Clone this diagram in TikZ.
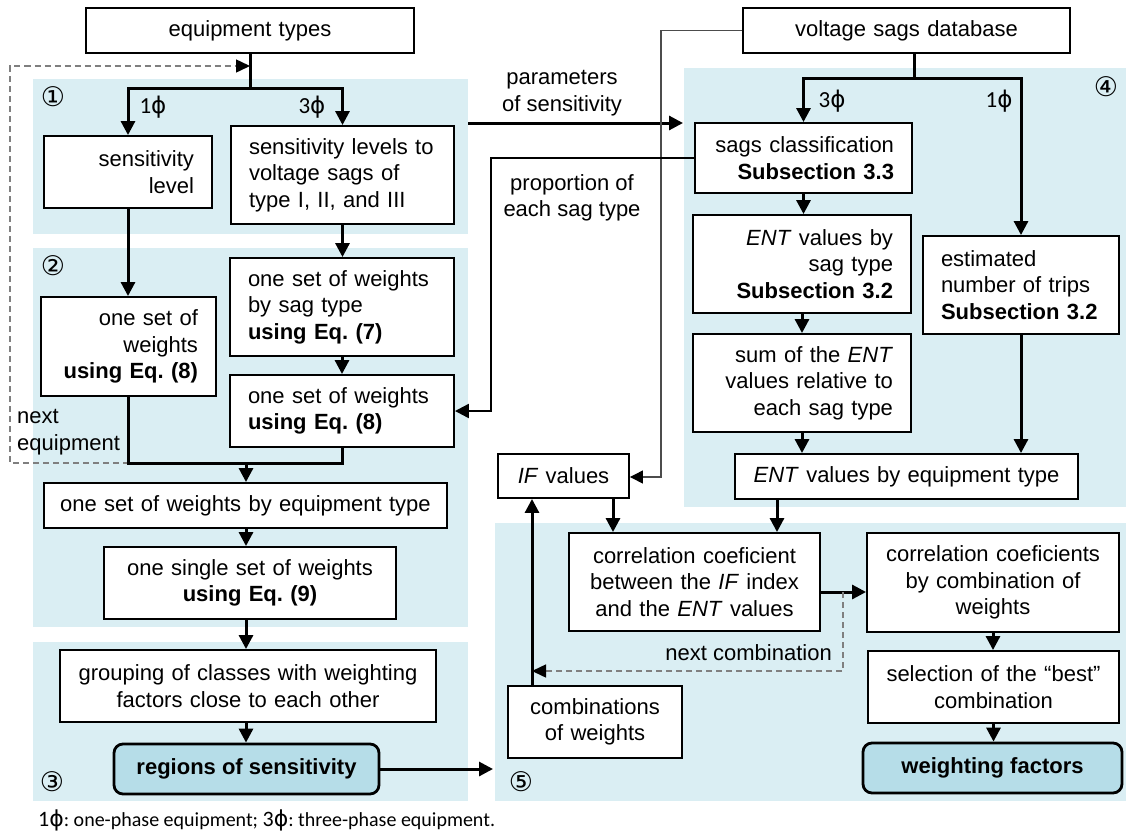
\documentclass[tikz,border=0pt]{standalone}
\usepackage{fontspec}
\setmainfont{Liberation Sans}
\newfontfamily\calfont{Carlito}
\newfontfamily\dvsfont{DejaVu Sans}
\usetikzlibrary{arrows.meta,calc}
\frenchspacing
\definecolor{regbg}{HTML}{DAEEF3}
\definecolor{endfill}{HTML}{B6DDE8}
\definecolor{dashgray}{HTML}{7F7F7F}
\newcommand{\ph}[1]{{\calfont #1}{\dvsfont ϕ}}
\tikzset{
  bx/.style={draw=black, line width=1.9pt, fill=white, inner ysep=0pt, font=\fontsize{22}{26.5}\selectfont},
  lbx/.style={bx, align=left, inner xsep=18pt},
  rbx/.style={bx, align=right, inner xsep=18pt},
  cbx/.style={bx, align=center, inner xsep=6pt},
  endbx/.style={draw=black, line width=2.8pt, rounded corners=9pt, fill=endfill, inner sep=0pt, font=\fontsize{22}{26.5}\selectfont\bfseries},
  ln/.style={line width=3pt},
  arr/.style={line width=3pt, -{Triangle[length=14pt,width=14pt]}},
  medarr/.style={line width=2.3pt, -{Triangle[length=14pt,width=14pt]}},
  dsh/.style={draw=dashgray, line width=1.5pt, dash pattern=on 6pt off 4pt},
  dsharr/.style={dsh, -{Triangle[length=14pt,width=13pt,color=black]}},
  thinarr/.style={draw=black!70, line width=1.3pt, -{Triangle[length=13pt,width=13pt,color=black]}},
  num/.style={font=\dvsfont\fontsize{27}{27}\selectfont, inner sep=0pt},
  phi/.style={font=\fontsize{23}{23}\selectfont, inner sep=0pt},
  lbl/.style={font=\fontsize{22}{26.5}\selectfont, align=center, inner sep=0pt}
}
\begin{document}
\begin{tikzpicture}[x=1pt,y=-1pt]
\useasboundingbox (0,0) rectangle (1126,833);
% regions
\fill[regbg] (33,79) rectangle (468,234);
\fill[regbg] (33,248) rectangle (468,627);
\fill[regbg] (33,642) rectangle (468,801);
\fill[regbg] (684,68) rectangle (1126,507);
\fill[regbg] (495,523) rectangle (1126,801);
% region numbers
\node[num] (n1) at (53,97) {①};
\node[num] (n2) at (53,266) {②};
\node[num] (n3) at (52,782) {③};
\node[num] (n4) at (1106,87) {④};
\node[num] (n5) at (521,782) {⑤};
% boxes left
\node[cbx, minimum width=328pt, text width=316pt, minimum height=45pt] (eqt) at (250,30.5) {equipment types};
\node[rbx, text width=132pt, minimum height=72pt] (sl) at (128,172) {sensitivity\\level};
\node[lbx, text width=187pt, minimum height=98pt] (sls) at (342.5,175) {sensitivity levels to\\voltage sags of\\type I, II, and III};
\node[lbx, text width=188pt, minimum height=98pt] (wst) at (342,307) {one set of weights\\by sag type\\\textbf{using Eq. (7)}};
\node[lbx, text width=188pt, minimum height=72pt] (w8b) at (342,411) {one set of weights\\\textbf{using Eq. (8)}};
\node[rbx, text width=139pt, minimum height=99pt] (w8a) at (128.5,346.5) {one set of\\weights\\\textbf{using Eq. (8)}};
\node[cbx, text width=391pt, minimum height=45pt] (wet) at (245.5,505.5) {one set of weights by equipment type};
\node[cbx, text width=280pt, minimum height=72pt] (w9) at (250,583) {one single set of weights\\\textbf{using Eq. (9)}};
\node[cbx, text width=364pt, minimum height=72pt] (grp) at (248,686) {grouping of classes with weighting\\factors close to each other};
\node[endbx, minimum width=265pt, minimum height=50pt] (ros) at (246.5,769) {regions of sensitivity};
% boxes right
\node[cbx, minimum width=327pt, text width=315pt, minimum height=45pt] (db) at (906.5,30.5) {voltage sags database};
\node[rbx, text width=181pt, minimum height=70pt] (sc) at (803.5,158) {sags classification\\\textbf{Subsection 3.3}};
\node[rbx, text width=182pt, minimum height=98pt] (ents) at (802,264) {\textit{ENT} values by\\sag type\\\textbf{Subsection 3.2}};
\node[rbx, text width=182pt, minimum height=98pt] (sum) at (802,383) {sum of the \textit{ENT}\\values relative to\\each sag type};
\node[lbx, text width=160pt, minimum height=98pt] (est) at (1021,285) {estimated\\number of trips\\\textbf{Subsection 3.2}};
\node[cbx, text width=331pt, minimum height=45pt] (ente) at (906.5,476.5) {\textit{ENT} values by equipment type};
\node[cbx, text width=119pt, minimum height=44pt] (ifv) at (563.5,476) {\textit{IF} values};
\node[cbx, text width=239pt, minimum height=98pt] (corr) at (694.5,582) {correlation coeficient\\between the \textit{IF} index\\and the \textit{ENT} values};
\node[cbx, text width=240pt, minimum height=99pt] (coefs) at (993,582.5) {correlation coeficients\\by combination of\\weights};
\node[cbx, text width=239pt, minimum height=72pt] (sel) at (993.5,687) {selection of the “best”\\combination};
\node[endbx, minimum width=259pt, minimum height=50pt] (wf) at (992.5,768) {weighting factors};
\node[cbx, text width=162pt, minimum height=72pt] (comb) at (595,722) {combinations\\of weights};
% labels
\node[phi] (p1) at (153,107) {\ph{1}};
\node[phi] (p3) at (312,107) {\ph{3}};
\node[phi] (q3) at (832,101) {\ph{3}};
\node[phi] (q1) at (999,101) {\ph{1}};
\node[lbl] (par) at (562,93) {parameters\\of sensitivity};
\node[lbl] (prop) at (572,198) {proportion of\\each sag type};
\node[lbl, align=left, anchor=west] (nexteq) at (17,432) {next\\equipment};
\node[lbl, anchor=east] (nextc) at (832,653) {next combination};
\node[anchor=west, inner sep=0pt, font=\calfont\fontsize{20}{20}\selectfont] (cap) at (38,820) {{\fontsize{22}{22}\selectfont\ph{1}}: one-phase equipment; {\fontsize{22}{22}\selectfont\ph{3}}: three-phase equipment.};
% coordinates
\coordinate (j1) at (250,88);
\coordinate (j2) at (128.5,463);
\coordinate (d1) at (10,463);
\coordinate (d2) at (10,66);
\coordinate (cx) at (246,0);
\coordinate (rosend) at (493,769);
\coordinate (pa) at (468,123);
\coordinate (pb) at (683,123);
\coordinate (t2) at (661,477);
\coordinate (pr) at (491,0);
\coordinate (j4) at (914,78);
\coordinate (c777) at (777,0);
\coordinate (c613) at (613,0);
\coordinate (c532) at (532,0);
\coordinate (r592) at (0,592);
\coordinate (dn1) at (843,592);
\coordinate (dn2) at (843,671);
% left connectors
\draw[ln] (eqt.south) -- (j1);
\draw[arr] (j1) -| (sl.north);
\draw[arr] (j1) -| (sls.north);
\draw[dsharr] (j2) -- (d1) -- (d2) -- (eqt.south |- d2);
\draw[arr] (sl.south) -- (sl.south |- w8a.north);
\draw[arr] (sls.south) -- (sls.south |- wst.north);
\draw[arr] (wst.south) -- (wst.south |- w8b.north);
\draw[ln] (w8a.south) -- (w8a.south |- j2) -- (w8b.south |- j2) -- (w8b.south);
\draw[arr] (cx |- j2) -- (cx |- wet.north);
\draw[arr] (cx |- wet.south) -- (cx |- w9.north);
\draw[arr] (cx |- w9.south) -- (cx |- grp.north);
\draw[arr] (cx |- grp.south) -- (cx |- ros.north);
\draw[arr] (ros.east) -- (rosend);
\draw[arr] (pa) -- (pb);
% right connectors
\draw[thinarr] (db.west) -- (db.west -| t2) -- (t2) -- (ifv.east |- t2);
\draw[medarr] (sc.west) -- (sc.west -| pr) -- (pr |- w8b.east) -- (w8b.east);
\draw[ln] (db.south -| j4) -- (j4);
\draw[arr] (j4) -| (sc.north);
\draw[arr] (j4) -| (est.north);
\draw[arr] (sc.south) -- (sc.south |- ents.north);
\draw[arr] (ents.south) -- (ents.south |- sum.north);
\draw[arr] (sum.south) -- (sum.south |- ente.north);
\draw[arr] (est.south) -- (est.south |- ente.north);
\draw[arr] (ente.south -| c777) -- (corr.north -| c777);
\draw[arr] (ifv.south -| c613) -- (corr.north -| c613);
\draw[arr] (comb.north -| c532) -- (ifv.south -| c532);
\draw[arr] (corr.east |- r592) -- (coefs.west |- r592);
\draw[dsharr] (dn1) -- (dn2) -- (c532 |- dn2);
\draw[arr] (coefs.south) -- (coefs.south |- sel.north);
\draw[arr] (sel.south) -- (sel.south |- wf.north);
\end{tikzpicture}
\end{document}
